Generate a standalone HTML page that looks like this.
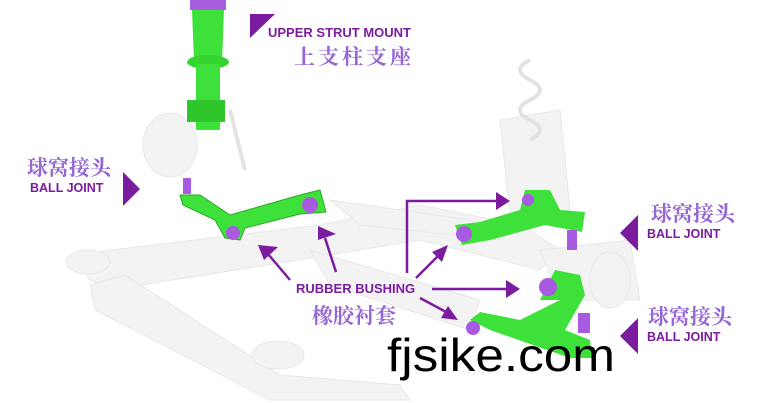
<!DOCTYPE html>
<html><head><meta charset="utf-8"><style>
html,body{margin:0;padding:0;background:#fff;width:772px;height:403px;overflow:hidden}
svg{display:block}
.en{font-family:"Liberation Sans",Arial,sans-serif;font-weight:bold;fill:#7b1c9e}
.cn{font-family:"Liberation Serif","Noto Serif CJK SC",serif;fill:#9466d6;font-weight:bold}
</style></head><body>
<svg width="772" height="403" viewBox="0 0 772 403" xmlns="http://www.w3.org/2000/svg">
<!-- ghost subframe -->
<g fill="#f3f3f3" stroke="#e8e8e8" stroke-width="1">
<polygon points="70,255 320,225 420,205 520,225 560,250 540,270 420,240 330,255 110,290 90,280"/>
<polygon points="90,285 125,275 280,375 400,385 410,400 270,400 95,310"/>
<polygon points="310,250 480,300 470,330 330,285"/>
<polygon points="330,200 470,220 500,240 360,225"/>
<ellipse cx="88" cy="262" rx="22" ry="12"/>
<ellipse cx="278" cy="355" rx="26" ry="14"/>
<polygon points="500,120 560,110 570,210 510,215"/>
<ellipse cx="170" cy="145" rx="27" ry="32"/>
<polygon points="540,250 630,240 640,300 560,300"/>
<ellipse cx="610" cy="280" rx="20" ry="28"/>
</g>
<g stroke="#e2e2e2" stroke-width="4" fill="none">
<path d="M530,60 q-20,10 0,20 q20,10 0,20 q-20,10 0,20 q20,10 0,20"/>
<line x1="230" y1="110" x2="245" y2="170"/>
</g>
<!-- left strut -->
<rect x="190" y="0" width="36" height="10" fill="#a75fe0"/>
<path d="M192,10 h32 l-2,52 h-28 z" fill="#3ee03a"/>
<ellipse cx="208" cy="62" rx="21" ry="7" fill="#35d52f"/>
<rect x="196" y="64" width="24" height="66" fill="#3ee03a"/>
<rect x="187" y="100" width="38" height="22" fill="#2fc62c"/>
<!-- left arm -->
<g fill="#3ee03a" stroke="#2aa827" stroke-width="1">
<path d="M180,195 L200,195 L230,215 L300,195 L320,190 L326,212 L300,214 L245,228 L240,240 L225,238 L215,220 L183,205 z"/>
</g>
<circle cx="310" cy="205" r="8" fill="#a85ae0"/>
<circle cx="233" cy="233" r="7" fill="#a85ae0"/>
<rect x="183" y="178" width="8" height="16" fill="#a85ae0"/>
<!-- right arms -->
<g fill="#3ee03a">
<path d="M455,225 L480,222 L520,210 L525,190 L550,190 L560,210 L585,212 L582,232 L545,225 L490,240 L462,245 z"/>
<path d="M555,270 L580,275 L585,295 L565,330 L590,340 L592,358 L570,358 L490,330 L470,320 L480,312 L520,320 L560,300 L540,300 z"/>
</g>
<circle cx="464" cy="234" r="8" fill="#a85ae0"/>
<circle cx="528" cy="200" r="6" fill="#a85ae0"/>
<rect x="567" y="230" width="10" height="20" fill="#a85ae0"/>
<circle cx="548" cy="287" r="9" fill="#a85ae0"/>
<circle cx="473" cy="328" r="7" fill="#a85ae0"/>
<rect x="578" y="313" width="12" height="20" fill="#a85ae0"/>
<!-- labels -->
<polygon points="250,14 275,14 250,38" fill="#7b1c9e"/>
<text x="268" y="37" class="en" font-size="13">UPPER STRUT MOUNT</text>
<text x="294" y="64" class="cn" font-size="21" letter-spacing="3">上支柱支座</text>
<text x="27" y="175" class="cn" font-size="21">球窝接头</text>
<text x="30" y="192" class="en" font-size="12.5">BALL JOINT</text>
<polygon points="123,172 140,189 123,206" fill="#7b1c9e"/>
<text x="651" y="221" class="cn" font-size="21">球窝接头</text>
<text x="647" y="238" class="en" font-size="12.5">BALL JOINT</text>
<polygon points="638,215 620,233 638,251" fill="#7b1c9e"/>
<text x="648" y="324" class="cn" font-size="21">球窝接头</text>
<text x="647" y="341" class="en" font-size="12.5">BALL JOINT</text>
<polygon points="638,318 620,336 638,354" fill="#7b1c9e"/>
<text x="296" y="293" class="en" font-size="13">RUBBER BUSHING</text>
<text x="312" y="323" class="cn" font-size="21">橡胶衬套</text>
<!-- arrows -->
<g stroke="#7b1c9e" stroke-width="2.5" fill="none">
<line x1="290" y1="280" x2="268" y2="254"/>
<line x1="336" y1="272" x2="325" y2="238"/>
<polyline points="407,273 407,201 498,201"/>
<line x1="416" y1="278" x2="440" y2="254"/>
<line x1="432" y1="289" x2="512" y2="289"/>
<line x1="420" y1="298" x2="448" y2="313"/>
</g>
<g fill="#7b1c9e">
<polygon points="258,245 278,247 264,260"/>
<polygon points="318,226 336,234 318,240"/>
<polygon points="510,201 496,192 496,210"/>
<polygon points="448,245 442,262 432,252"/>
<polygon points="520,289 506,280 506,298"/>
<polygon points="458,320 441,318 448,306"/>
</g>
<text x="387" y="371" font-family="'Liberation Sans',Arial,sans-serif" font-size="46" fill="#000" textLength="228" lengthAdjust="spacingAndGlyphs">fjsike.com</text>
</svg>
</body></html>
